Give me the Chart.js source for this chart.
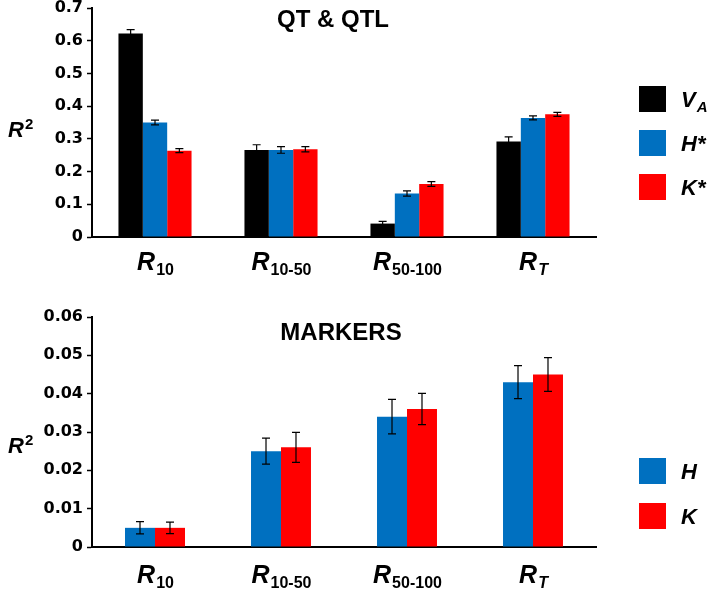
<!DOCTYPE html>
<html>
<head>
<meta charset="utf-8">
<script src="https://cdn.jsdelivr.net/npm/chart.js@4.4.1/dist/chart.umd.min.js"></script>
<style>
  body { margin: 0; background: #fff; }
  #wrap { position: relative; width: 711px; height: 593px; }
  canvas { position: absolute; left: 0; }
</style>
</head>
<body>
<div id="wrap">
  <canvas id="qtChart" width="711" height="290" style="top:0"></canvas>
  <canvas id="markerChart" width="711" height="303" style="top:290px"></canvas>
</div>
<script>
// subscripts of R on the x axis
const categories = ['10', '10-50', '50-100', 'T'];

// QT & QTL panel
const vaValues = [0.622, 0.266, 0.041, 0.292];
const vaErrors = [0.012, 0.016, 0.007, 0.014];
const hStarValues = [0.350, 0.266, 0.133, 0.364];
const hStarErrors = [0.007, 0.010, 0.008, 0.006];
const kStarValues = [0.264, 0.268, 0.162, 0.375];
const kStarErrors = [0.006, 0.008, 0.007, 0.006];

// MARKERS panel
const hValues = [0.005, 0.025, 0.034, 0.043];
const hErrors = [0.0016, 0.0034, 0.0045, 0.0043];
const kValues = [0.005, 0.026, 0.036, 0.045];
const kErrors = [0.0015, 0.0039, 0.0041, 0.0044];

const SANS = '"Liberation Sans", Arial, sans-serif';
const BLACK = '#000000';
const BLUE = '#0070C0';
const RED = '#FF0000';

// draws main text with a sub/superscript
function drawScript(ctx, main, small, x, y, mainPx, smallPx, dy, centered) {
  ctx.font = 'italic bold ' + mainPx + 'px ' + SANS;
  const w1 = ctx.measureText(main).width;
  const smallFont = (/[A-Za-z]/.test(small) ? 'italic ' : '') + 'bold ' + smallPx + 'px ' + SANS;
  ctx.font = smallFont;
  const w2 = small ? ctx.measureText(small).width : 0;
  const start = centered ? x - (w1 + w2) / 2 : x;
  ctx.textAlign = 'left';
  ctx.textBaseline = 'alphabetic';
  ctx.font = 'italic bold ' + mainPx + 'px ' + SANS;
  ctx.fillText(main, start, y);
  if (small) {
    ctx.font = smallFont;
    ctx.fillText(small, start + w1 + 1, y + dy);
  }
}

const decor = {
  id: 'decor',
  afterDatasetsDraw(chart) {
    const ctx = chart.ctx;
    const xs = chart.scales.x;
    const ys = chart.scales.y;
    const o = chart.options.plugins.decor;
    ctx.save();

    // error bars
    chart.data.datasets.forEach((ds, i) => {
      chart.getDatasetMeta(i).data.forEach((bar, j) => {
        const top = ys.getPixelForValue(ds.data[j] + ds.errors[j]);
        const bot = ys.getPixelForValue(ds.data[j] - ds.errors[j]);
        ctx.strokeStyle = '#000';
        ctx.lineWidth = 1.2;
        ctx.beginPath();
        ctx.moveTo(bar.x, top); ctx.lineTo(bar.x, bot);
        ctx.moveTo(bar.x - 4, top); ctx.lineTo(bar.x + 4, top);
        ctx.moveTo(bar.x - 4, bot); ctx.lineTo(bar.x + 4, bot);
        ctx.stroke();
      });
    });

    ctx.fillStyle = '#000';

    // panel title
    ctx.font = 'bold 24px ' + SANS;
    ctx.textAlign = 'center';
    ctx.textBaseline = 'alphabetic';
    ctx.fillText(o.title, o.titleX, o.titleY);

    // y axis title R^2
    drawScript(ctx, 'R', '2', 8, o.r2Y, 22, 15, -8, false);

    // x labels R with subscripts
    categories.forEach((c, i) => {
      drawScript(ctx, 'R', c, xs.getPixelForTick(i), o.labelY, 25, 16, 5, true);
    });

    // legend
    chart.data.datasets.forEach((ds, i) => {
      const top = o.legendY + i * o.legendGap;
      ctx.fillStyle = ds.backgroundColor;
      ctx.fillRect(639, top, 27, 26);
      ctx.fillStyle = '#000';
      const parts = ds.label.split('_');
      drawScript(ctx, parts[0], parts[1] || '', 681, top + 21, 22, 15, 5, false);
    });

    ctx.restore();
  }
};

function makeChart(id, datasets, yMax, step, catPct, pad, xHeight, decorOpts) {
  return new Chart(document.getElementById(id), {
    type: 'bar',
    data: { labels: categories, datasets: datasets },
    options: {
      responsive: false,
      animation: false,
      devicePixelRatio: 1,
      layout: { padding: { left: 0, right: 115, top: pad, bottom: 0 } },
      datasets: { bar: { barPercentage: 1, categoryPercentage: catPct, borderWidth: 0 } },
      plugins: {
        legend: { display: false },
        tooltip: { enabled: false },
        decor: decorOpts
      },
      scales: {
        x: {
          grid: { display: false },
          border: { display: true, color: '#000', width: 2 },
          ticks: { display: false },
          afterFit: s => { s.height = xHeight; }
        },
        y: {
          min: 0,
          max: yMax,
          grid: { drawOnChartArea: false, drawTicks: true, tickLength: 5, tickColor: '#000', tickWidth: 1.5 },
          border: { display: true, color: '#000', width: 2 },
          ticks: {
            stepSize: step,
            color: '#000',
            padding: 4,
            font: { family: '"DejaVu Sans", sans-serif', weight: 'bold', size: 16 }
          },
          afterFit: s => {
            s.width = 92;
            s.paddingTop = 0;
            s.paddingBottom = 0;
          }
        }
      }
    },
    plugins: [decor]
  });
}

makeChart('qtChart', [
  { label: 'V_A', data: vaValues, errors: vaErrors, backgroundColor: BLACK },
  { label: 'H*', data: hStarValues, errors: hStarErrors, backgroundColor: BLUE },
  { label: 'K*', data: kStarValues, errors: kStarErrors, backgroundColor: RED }
], 0.7, 0.1, 0.58, 8, 53,
  { title: 'QT & QTL', titleX: 333, titleY: 27, r2Y: 137, labelY: 270, legendY: 86, legendGap: 44 });

makeChart('markerChart', [
  { label: 'H', data: hValues, errors: hErrors, backgroundColor: BLUE },
  { label: 'K', data: kValues, errors: kErrors, backgroundColor: RED }
], 0.06, 0.01, 0.476, 27, 46,
  { title: 'MARKERS', titleX: 341, titleY: 50, r2Y: 163, labelY: 293, legendY: 168, legendGap: 45 });
</script>
</body>
</html>
